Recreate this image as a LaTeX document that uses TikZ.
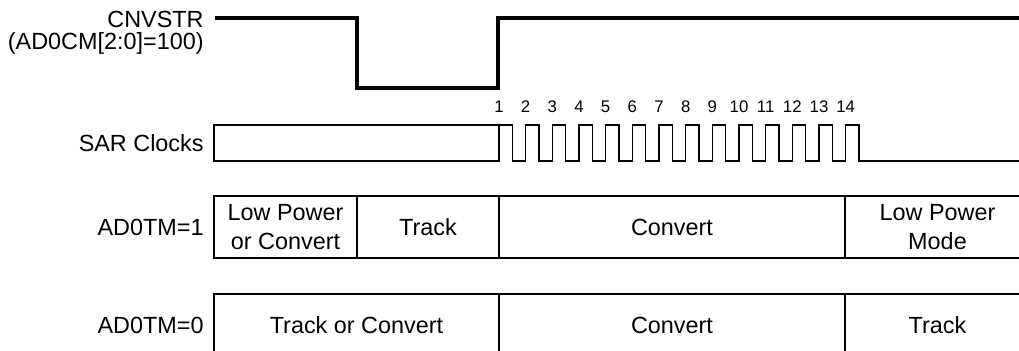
\documentclass[tikz,border=0pt]{standalone}
\usepackage{fontspec}
\setmainfont{Liberation Sans}
\usepackage{tikz}
\usetikzlibrary{positioning}

\tikzset{
  siglabel/.style={inner sep=0pt, font=\fontsize{11.7}{14}\selectfont},
  clknum/.style={inner sep=0pt, font=\fontsize{8.4}{10}\selectfont},
  cell/.style={draw, line width=0.65pt, anchor=north west, minimum height=31pt, inner sep=0pt, outer sep=0pt, align=center, font=\fontsize{11.7}{14.3}\selectfont},
  wave/.style={line width=0.65pt},
  strobe/.style={line width=1.75pt},
}

\begin{document}
\begin{tikzpicture}[x=0.5pt, y=-0.5pt]
  \useasboundingbox (0,0) rectangle (1019,350);
  \clip (0,0) rectangle (1019,350);

  % CNVSTR
  \node[siglabel, anchor=east] (cnvstr) at (204,19) {CNVSTR};
  \node[siglabel, anchor=east] (cnvmode) at (204,43) {(AD0CM[2:0]=100)};
  \coordinate (cnvend) at (1030,18);
  \draw[strobe] ([xshift=5.5pt]cnvstr.east |- cnvend) -| (357,88) -| (498,18) -- (cnvend);

  % SAR clocks
  \node[draw, wave, anchor=north west, minimum width=142.5pt, minimum height=18pt, inner sep=0pt, outer sep=0pt] (sarbox) at (214,125) {};
  \node[siglabel, left=5pt of sarbox] (sarlbl) {SAR Clocks};
  \coordinate (clkend) at (1030,161);
  \draw[wave] (sarbox.south east) \foreach \k in {1,...,14} {
      -- ++(0,-36) -- ++(13.333,0) -- ++(0,36) -- ++(13.333,0)
    } -- (clkend);
  \foreach \k in {1,...,14}
    \node[clknum] (clk\k) at ({499+26.667*(\k-1)},107) {\k};

  % AD0TM=1
  \node[cell, minimum width=71.5pt] (lp1) at (214,196) {Low Power\\or Convert};
  \node[cell, minimum width=71pt] (trk1) at (lp1.north east) {Track};
  \node[cell, minimum width=173pt] (cnv1) at (trk1.north east) {Convert};
  \node[cell, minimum width=92.5pt] (lpm1) at (cnv1.north east) {Low Power\\Mode};
  \node[siglabel, left=5pt of lp1] (tm1) {AD0TM=1};

  % AD0TM=0
  \node[cell, minimum width=142.5pt] (tc0) at (214,294) {Track or Convert};
  \node[cell, minimum width=173pt] (cnv0) at (tc0.north east) {Convert};
  \node[cell, minimum width=92.5pt] (trk0) at (cnv0.north east) {Track};
  \node[siglabel, left=5pt of tc0] (tm0) {AD0TM=0};
\end{tikzpicture}
\end{document}
